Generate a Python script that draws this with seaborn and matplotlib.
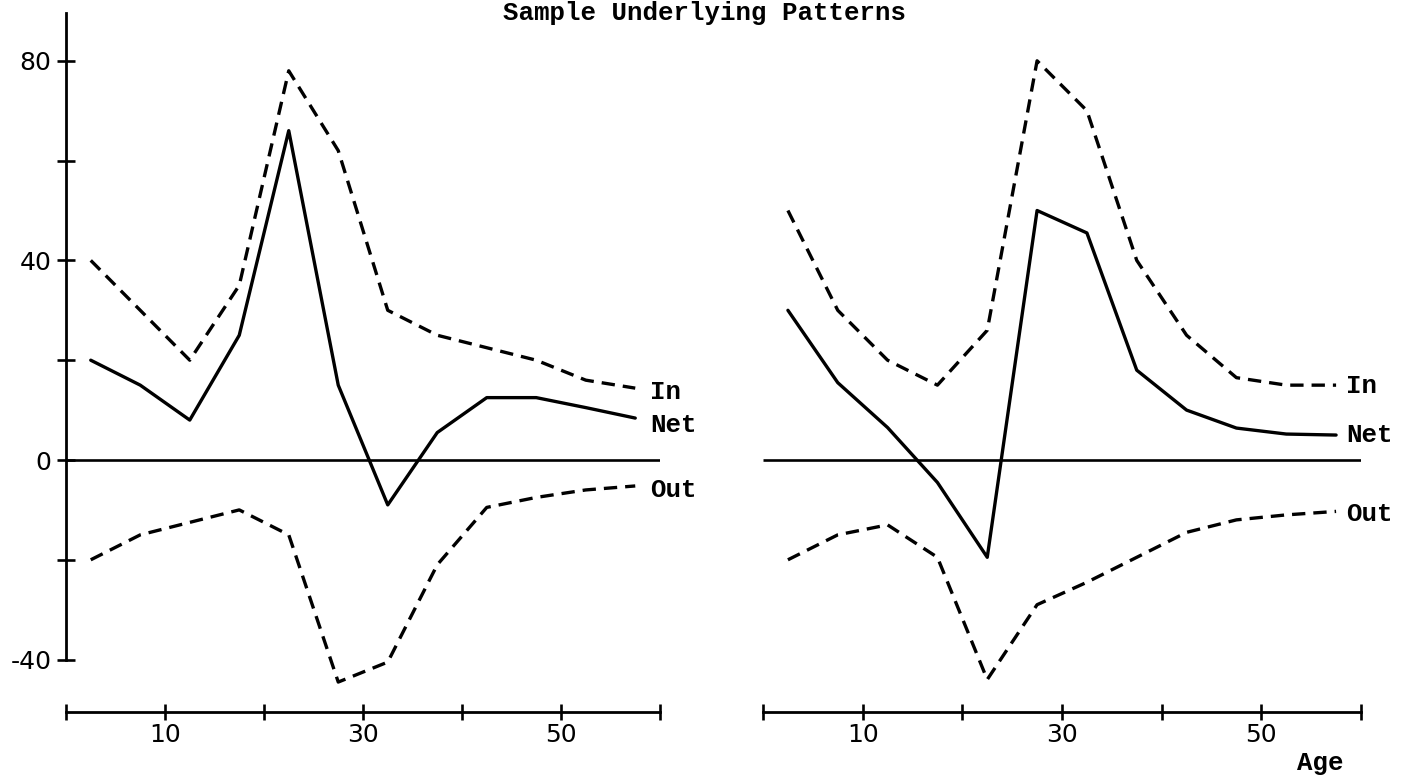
import matplotlib
matplotlib.use("Agg")
import matplotlib.pyplot as plt
import numpy as np
import pandas as pd
import seaborn as sns

# Age-group midpoints (five-year groups)
ages = [2.5, 7.5, 12.5, 17.5, 22.5, 27.5, 32.5, 37.5, 42.5, 47.5, 52.5, 57.5]

# Left pattern
left_in = [40, 30, 20, 35, 78, 62, 30, 25, 22.5, 20, 16, 14.4]
left_net = [20, 15, 8, 25, 66, 15, -9, 5.5, 12.5, 12.5, 10.5, 8.4]
left_out = [-20, -15, -12.5, -10, -15, -44.5, -40.5, -21, -9.5, -7.5, -6, -5.2]

# Right pattern
right_in = [50, 30, 20, 15, 26, 80, 70, 40, 25, 16.5, 15, 15]
right_net = [30, 15.5, 6.5, -4.5, -19.5, 50, 45.5, 18, 10, 6.4, 5.2, 5]
right_out = [-20, -15, -13, -19.5, -44, -29, -24.5, -19.5, -14.5, -12, -11, -10.3]

flows = ["In", "Net", "Out"]
y_ticks = [-40, -20, 0, 20, 40, 60, 80]
y_tick_labels = ["-40", "", "0", "", "40", "", "80"]
x_ticks = [0, 10, 20, 30, 40, 50, 60]
x_tick_labels = ["", "10", "", "30", "", "50", ""]

def long_frame(series_in, series_net, series_out):
    parts = []
    for name, vals in zip(flows, [series_in, series_net, series_out]):
        parts.append(pd.DataFrame({"age": ages, "value": vals, "flow": name}))
    return pd.concat(parts, ignore_index=True)

panels = [long_frame(left_in, left_net, left_out),
          long_frame(right_in, right_net, right_out)]

sns.set_style("white")
plt.rcParams["font.family"] = ["DejaVu Sans"]

W, H = 1412, 777
fig = plt.figure(figsize=(W / 100, H / 100), dpi=100)

ylo, yhi = -52, 92
px_per_unit = 4.99
zero_px = 460
ax_bottom = (H - (zero_px - ylo * px_per_unit)) / H
ax_height = (yhi - ylo) * px_per_unit / H

ax_left = fig.add_axes([66 / W, ax_bottom, 594 / W, ax_height])
ax_right = fig.add_axes([763 / W, ax_bottom, 598 / W, ax_height])

dash = (4.0, 2.4)
label_x = [59.0, 58.5]
label_dy = [{"In": -0.8, "Net": -1.4, "Out": -0.8},
            {"In": -0.2, "Net": 0.0, "Out": -0.6}]

tick_font = {"family": "DejaVu Sans", "size": 18}
mono = "Liberation Mono"
mono_size = 18.5
mono_weight = "bold"

for i, (ax, df) in enumerate(zip([ax_left, ax_right], panels)):
    sns.lineplot(data=df, x="age", y="value", style="flow",
                 dashes={"In": dash, "Net": "", "Out": dash},
                 color="black", linewidth=2.4, legend=False, ax=ax,
                 sort=False)
    ax.hlines(0, 0, 60, color="black", linewidth=1.9)
    ax.set_xlim(0, 60)
    ax.set_ylim(ylo, yhi)
    ax.set_xlabel("")
    ax.set_ylabel("")

    for s in ["top", "right"]:
        ax.spines[s].set_visible(False)
    ax.spines["bottom"].set_position(("data", -50.5))
    ax.spines["bottom"].set_bounds(0, 60)
    ax.spines["bottom"].set_linewidth(2.0)
    ax.set_xticks(x_ticks)
    ax.set_xticklabels(x_tick_labels, fontdict=tick_font)
    ax.tick_params(axis="x", bottom=True, direction="inout", length=12,
                   width=1.9, pad=2, colors="black")

    if i == 0:
        ax.spines["left"].set_position(("data", 0))
        ax.spines["left"].set_bounds(-40, 89.6)
        ax.spines["left"].set_linewidth(2.0)
        ax.set_yticks(y_ticks)
        ax.set_yticklabels(y_tick_labels, fontdict=tick_font)
        ax.tick_params(axis="y", left=True, direction="inout", length=13,
                       width=1.9, pad=4, colors="black")
    else:
        ax.spines["left"].set_visible(False)
        ax.set_yticks([])

    for name in flows:
        last = df[df["flow"] == name]["value"].iloc[-1]
        ax.text(label_x[i], last + label_dy[i][name], name, family=mono,
                fontsize=mono_size, fontweight=mono_weight,
                ha="left", va="center", color="black")

    for spine in ax.spines.values():
        spine.set_color("black")
    ax.patch.set_alpha(0)

fig.text(503 / W, 1 - 20 / H, "Sample Underlying Patterns", family=mono,
         fontsize=mono_size, fontweight=mono_weight,
         ha="left", va="baseline", color="black")
fig.text(1297 / W, 1 - 770 / H, "Age", family=mono, fontsize=mono_size,
         fontweight=mono_weight, ha="left", va="baseline", color="black")

fig.savefig("out.png", dpi=100, facecolor="white")
